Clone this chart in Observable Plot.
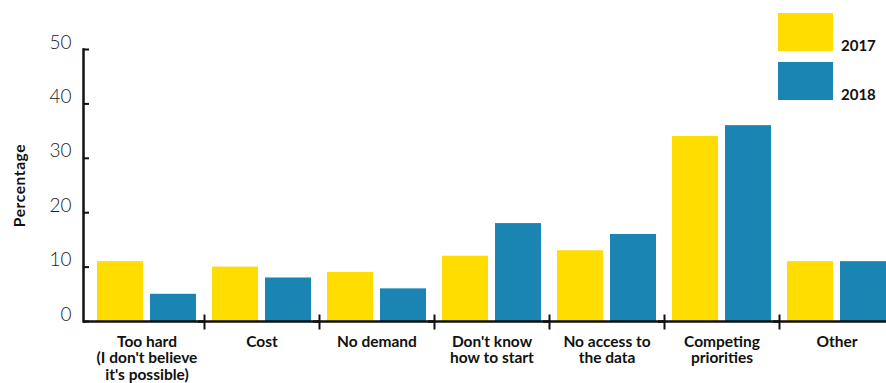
<!DOCTYPE html>
<html><head><meta charset="utf-8">
<script src="https://cdn.jsdelivr.net/npm/d3@7"></script>
<script src="https://cdn.jsdelivr.net/npm/@observablehq/plot@0.6"></script>
<style>
html,body{margin:0;padding:0;background:#fff;overflow:hidden;}
#chart{position:relative;width:886px;height:383px;overflow:hidden;}
#chart svg{display:block;}
#legend{position:absolute;left:0;top:0;}
#chart g[aria-label="y-axis label"] text{font-size:15.5px;font-weight:bold;letter-spacing:0.6px;}
</style></head><body><div id="chart"></div>
<script>
const categories = ["Too hard", "Cost", "No demand", "Don't know how to start", "No access to the data", "Competing priorities", "Other"];
const categoryLabels = ["Too hard\n(I don't believe\nit's possible)", "Cost", "No demand", "Don't know\nhow to start", "No access to\nthe data", "Competing\npriorities", "Other"];
const years = ["2017", "2018"];
const values2017 = [11, 10, 9, 12, 13, 34, 11];
const values2018 = [5, 8, 6, 18, 16, 36, 11];
const yTicks = [0, 10, 20, 30, 40, 50];
const colors = ["#FFDD00", "#1A85B2"];

const data = [];
categories.forEach((c, i) => {
  data.push({category: c, year: years[0], value: values2017[i]});
  data.push({category: c, year: years[1], value: values2018[i]});
});

const ink = "#111";
const plot = Plot.plot({
  width: 886, height: 383,
  marginLeft: 87, marginRight: -9, marginTop: 49, marginBottom: 62,
  style: {fontFamily: "Lato, sans-serif", background: "transparent", color: ink},
  fx: {domain: categories, padding: 0, label: null},
  x: {domain: years, padding: 0.14, axis: null},
  y: {domain: [0, 50], label: null},
  color: {domain: years, range: colors},
  marks: [
    Plot.barY(data, {fx: "category", x: "year", y: "value", fill: "year"}),
    Plot.ruleY([0], {insetLeft: -6, stroke: ink, strokeWidth: 2.5}),
    Plot.frame({anchor: "right", insetTop: 266, insetBottom: -7, stroke: ink, strokeWidth: 2}),
    Plot.frame({anchor: "left", facetAnchor: "left", dx: -6, stroke: ink, strokeWidth: 2.5}),
    Plot.axisY({ticks: yTicks, tickSize: 6, tickFormat: () => "", stroke: ink, strokeWidth: 2,
      label: "Percentage", labelAnchor: "center", labelArrow: "none", labelOffset: 76}),
    Plot.axisY({ticks: yTicks, tickSize: 0, tickPadding: 18, dy: -7, fontSize: 19, fontWeight: 300, fill: "#222", label: null}),
    Plot.axisFx({anchor: "bottom", tickSize: 0, tickPadding: 13.5, label: null,
      tickFormat: d => categoryLabels[categories.indexOf(d)],
      fontSize: 15.5, fontWeight: "bold", lineHeight: 1.07, fill: ink})
  ]
});
const chart = document.getElementById("chart");
chart.appendChild(plot);

// legend overlay
const lg = d3.select(chart).append("svg").attr("id", "legend")
  .attr("width", 886).attr("height", 120)
  .style("font-family", "Lato, sans-serif");
years.forEach((y, i) => {
  const g = lg.append("g").attr("transform", `translate(778,${13 + i * 49})`);
  g.append("rect").attr("width", 55).attr("height", 38).attr("fill", colors[i]);
  g.append("text").attr("x", 63).attr("y", 38).attr("font-size", 15).attr("font-weight", "bold").attr("fill", ink).text(y);
});
</script></body></html>
